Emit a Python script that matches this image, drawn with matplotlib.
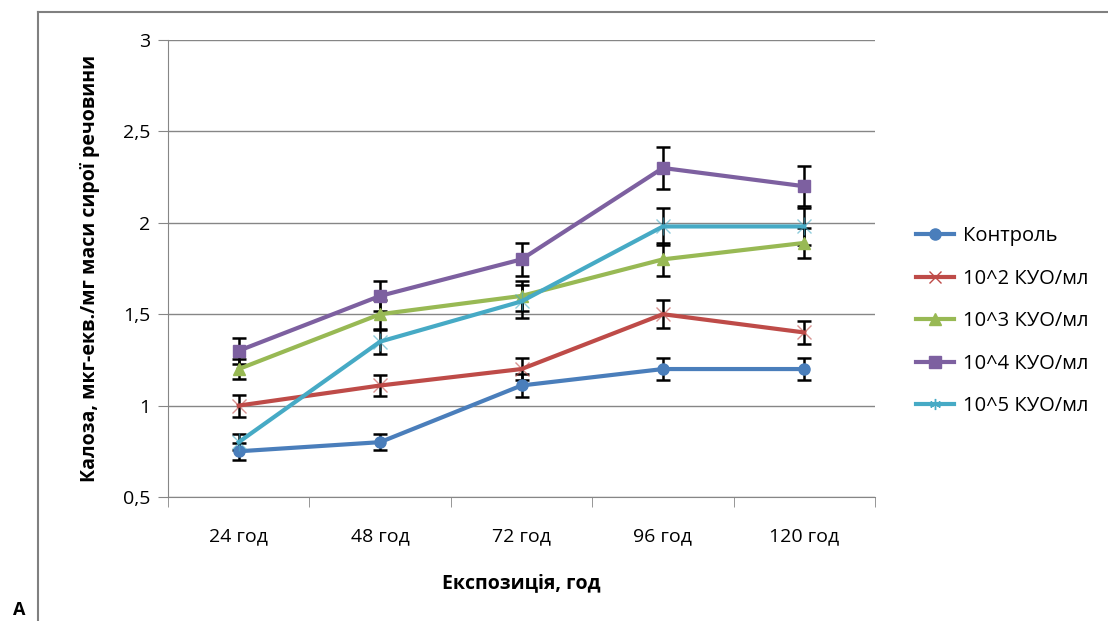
import matplotlib.pyplot as plt
from matplotlib.lines import Line2D
import numpy as np

plt.rcParams['font.family'] = ['Open Sans', 'DejaVu Sans']

# exposure times and callose content per inoculum density
cats = ["24 год", "48 год", "72 год", "96 год", "120 год"]
labels = ["Контроль", "10^2 КУО/мл", "10^3 КУО/мл", "10^4 КУО/мл", "10^5 КУО/мл"]
control = [0.75, 0.80, 1.11, 1.20, 1.20]
control_err = [0.045, 0.045, 0.065, 0.06, 0.06]
d2 = [1.00, 1.11, 1.20, 1.50, 1.40]
d2_err = [0.06, 0.055, 0.06, 0.075, 0.065]
d3 = [1.20, 1.50, 1.60, 1.80, 1.89]
d3_err = [0.055, 0.08, 0.08, 0.09, 0.08]
d4 = [1.30, 1.60, 1.80, 2.30, 2.20]
d4_err = [0.07, 0.08, 0.09, 0.115, 0.11]
d5 = [0.80, 1.35, 1.57, 1.98, 1.98]
d5_err = [0.045, 0.065, 0.09, 0.10, 0.10]

series = [control, d2, d3, d4, d5]
errors = [control_err, d2_err, d3_err, d4_err, d5_err]
colors = ["#4A7EBB", "#BE4B48", "#98B954", "#7D60A0", "#46AAC5"]
markers = ["o", "x", "^", "s", "*"]

W, H = 1108, 621
fig = plt.figure(figsize=(W/100, H/100), dpi=100)
ax = fig.add_axes([168/W, 1-497/H, (875-168)/W, (497-40)/H])

x = np.arange(len(cats))
for y, e, c, m, lab in zip(series, errors, colors, markers, labels):
    ax.errorbar(x, y, yerr=e, fmt="none", ecolor="black", elinewidth=1.8,
                capsize=5, capthick=1.8, zorder=3)
    if m in ("x", "*"):
        # thin light cross markers drawn over the thick line
        ax.plot(x, y, color=c, lw=3, zorder=4, label=lab)
        ax.plot(x, y, linestyle="none", marker="x", ms=10, mew=1,
                color=c, alpha=0.6, zorder=5)
        if m == "*":
            ax.plot(x, y, linestyle="none", marker="|", ms=13, mew=1,
                    color=c, alpha=0.6, zorder=5)
    else:
        ax.plot(x, y, color=c, lw=3, marker=m, ms=8, zorder=4, label=lab)

ax.set_xlim(-0.5, 4.5)
ax.set_ylim(0.5, 3)
ax.set_yticks([0.5, 1, 1.5, 2, 2.5, 3])
ax.set_yticklabels(["0,5", "1", "1,5", "2", "2,5", "3"])
ax.set_xticks(x)
ax.set_xticklabels(cats)
ax.set_xticks(np.arange(-0.5, 5, 1), minor=True)
ax.tick_params(axis="x", which="major", length=0, pad=22, labelsize=14)
ax.tick_params(axis="x", which="minor", length=7, color="#868686", direction="out")
ax.tick_params(axis="y", length=7, color="#868686", pad=6, labelsize=14)
ax.yaxis.grid(True, color="#868686", lw=1)
ax.set_axisbelow(True)
for s in ("top", "right"):
    ax.spines[s].set_visible(False)
for s in ("left", "bottom"):
    ax.spines[s].set_color("#868686")

ax.set_xlabel("Експозиція, год", fontsize=14, fontweight="bold", labelpad=20)
ax.set_ylabel("Калоза, мкг-екв./мг маси сирої речовини", fontsize=14,
              fontweight="bold", labelpad=16)

# legend with custom handles so the cross markers look as on the lines
handles = []
for c, m in zip(colors, markers):
    mm = {"*": (6, 2, 0)}.get(m, m)
    handles.append(Line2D([], [], color=c, lw=3, marker=mm, ms=8, mew=1))
fig.legend(handles, labels, loc="upper left", bbox_to_anchor=(898/W, 1-208/H),
           frameon=False, fontsize=14.5, handlelength=1.9, handletextpad=0.45,
           labelspacing=1.12)

# outer frame of the figure panel
fig.add_artist(Line2D([38/W, 38/W], [0, 1-12/H], color="#808080", lw=1.5))
fig.add_artist(Line2D([38/W, 1], [1-12/H, 1-12/H], color="#808080", lw=1.5))
fig.text(13/W, 2/H, "A", fontsize=13, fontweight="bold", va="bottom")

fig.savefig("out.png", dpi=100)
